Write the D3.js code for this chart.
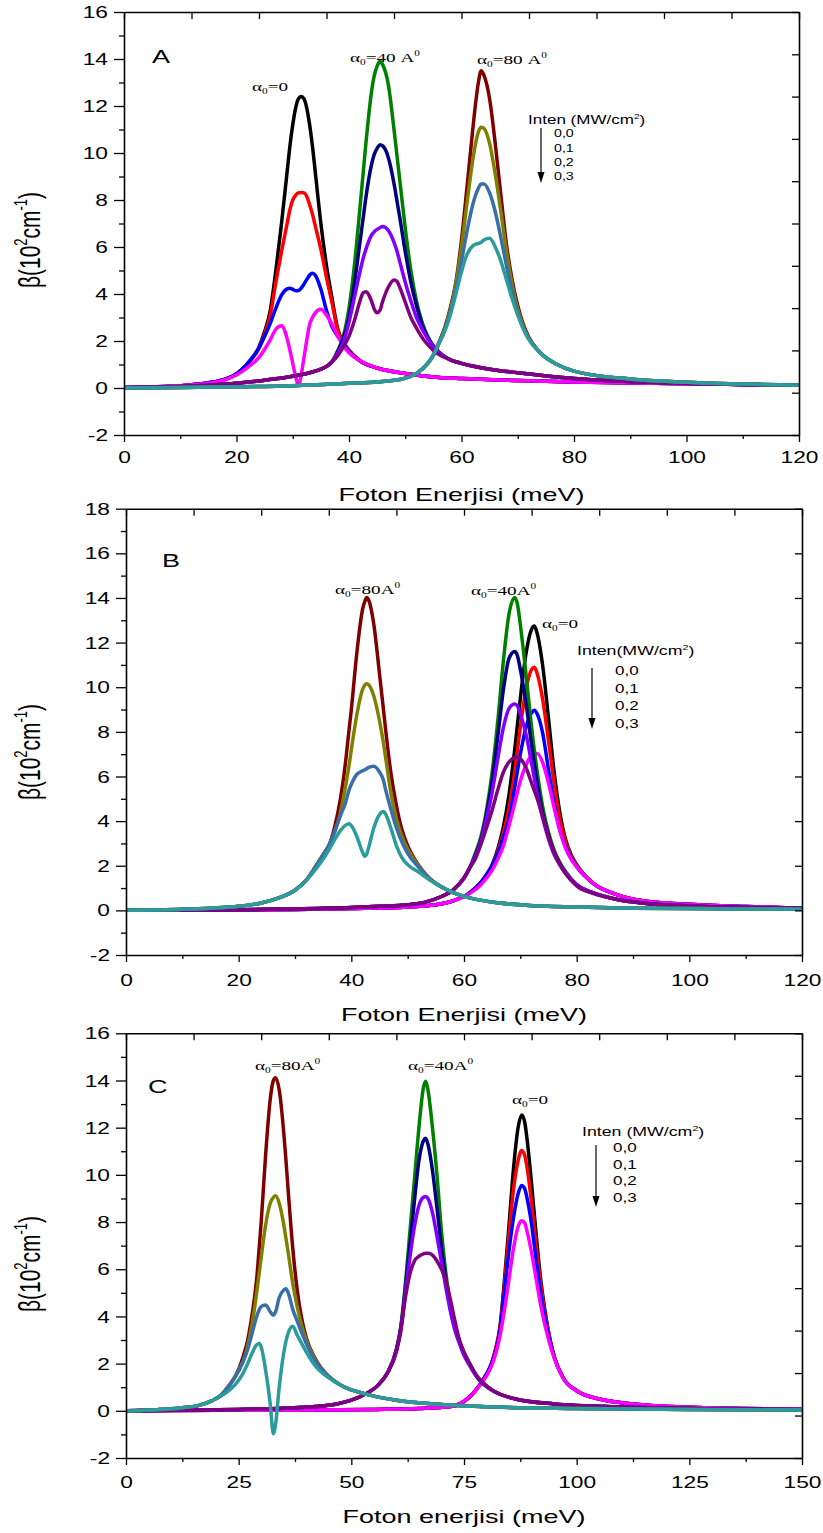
<!DOCTYPE html>
<html>
<head>
<meta charset="utf-8">
<script src="https://cdn.jsdelivr.net/npm/d3@7"></script>
<style>
  body { margin: 0; background: #fff; }
  svg { display: block; }
</style>
</head>
<body>
<div id="chart"></div>
<script>
// intensity legend entries (MW/cm2)
const intensities = ['0,0', '0,1', '0,2', '0,3'];

// ---------- Panel A ----------
// alpha0 = 0
const xA_0 = [0, 5, 10, 15, 18, 20, 22, 24, 25, 26, 27, 28, 29, 29.5, 30, 30.5, 31, 31.5, 32, 32.5, 33, 33.5, 34, 35, 36, 37, 38, 39, 40, 42, 45, 50, 56, 60, 70, 80, 100, 120];
const yA_0_i0 = [0.02, 0.05, 0.1, 0.22, 0.38, 0.6, 1.05, 1.75, 2.4, 3.3, 5.0, 7.0, 9.2, 10.3, 11.2, 11.9, 12.3, 12.4, 12.3, 11.9, 11.2, 10.3, 9.2, 7.0, 5.2, 3.8, 2.5, 1.95, 1.6, 1.15, 0.85, 0.62, 0.45, 0.4, 0.32, 0.26, 0.18, 0.12];
const yA_0_i1 = [0.02, 0.05, 0.1, 0.22, 0.38, 0.6, 1.05, 1.7, 2.3, 3.1, 4.5, 5.8, 7.0, 7.6, 8.0, 8.2, 8.3, 8.32, 8.3, 8.15, 7.8, 7.4, 6.9, 5.9, 4.7, 3.6, 2.45, 1.95, 1.6, 1.15, 0.85, 0.62, 0.45, 0.4, 0.32, 0.26, 0.18, 0.12];
const yA_0_i2 = [0.02, 0.05, 0.1, 0.22, 0.38, 0.6, 1.05, 1.7, 2.2, 2.75, 3.4, 3.95, 4.22, 4.25, 4.2, 4.14, 4.15, 4.25, 4.42, 4.62, 4.8, 4.88, 4.8, 4.2, 3.3, 2.6, 2.2, 1.9, 1.55, 1.15, 0.85, 0.62, 0.45, 0.4, 0.32, 0.26, 0.18, 0.12];
const yA_0_i3 = [0.02, 0.05, 0.1, 0.2, 0.35, 0.55, 0.88, 1.3, 1.65, 2.05, 2.5, 2.65, 2.1, 1.6, 1.05, 0.5, 0.13, 0.55, 1.3, 2.05, 2.7, 3.0, 3.2, 3.35, 3.1, 2.7, 2.2, 1.8, 1.5, 1.15, 0.85, 0.62, 0.45, 0.4, 0.32, 0.26, 0.18, 0.12];
// alpha0 = 40 A
const xA_40 = [0, 10, 20, 25, 30, 33, 35, 36, 37, 38, 39, 40, 41, 42, 42.5, 43, 44, 44.5, 45, 45.5, 46, 47, 48, 48.5, 49, 50, 51, 52, 53, 54, 55, 56, 58, 60, 65, 70, 80, 100, 120];
const yA_40_i0 = [0.01, 0.06, 0.2, 0.33, 0.5, 0.65, 0.8, 0.92, 1.12, 1.6, 2.2, 3.4, 5.3, 7.8, 9.1, 10.4, 12.6, 13.3, 13.7, 13.9, 13.75, 12.9, 11.0, 9.95, 8.9, 6.8, 5.0, 3.7, 2.8, 2.2, 1.8, 1.52, 1.2, 1.05, 0.8, 0.65, 0.4, 0.2, 0.12];
const yA_40_i1 = [0.01, 0.06, 0.2, 0.33, 0.5, 0.65, 0.8, 0.92, 1.12, 1.55, 2.1, 3.0, 4.5, 6.3, 7.2, 8.1, 9.5, 9.95, 10.2, 10.35, 10.3, 9.8, 8.7, 8.0, 7.3, 5.8, 4.5, 3.5, 2.7, 2.15, 1.78, 1.52, 1.2, 1.05, 0.8, 0.65, 0.4, 0.2, 0.12];
const yA_40_i2 = [0.01, 0.06, 0.2, 0.33, 0.5, 0.65, 0.8, 0.92, 1.12, 1.5, 1.95, 2.8, 3.9, 5.0, 5.5, 5.9, 6.5, 6.65, 6.75, 6.82, 6.87, 6.7, 6.2, 5.85, 5.4, 4.5, 3.7, 3.0, 2.5, 2.1, 1.78, 1.5, 1.2, 1.05, 0.8, 0.65, 0.4, 0.2, 0.12];
const yA_40_i3 = [0.01, 0.06, 0.2, 0.33, 0.5, 0.65, 0.8, 0.92, 1.12, 1.38, 1.75, 2.2, 2.9, 3.74, 4.05, 4.1, 3.7, 3.35, 3.2, 3.3, 3.7, 4.3, 4.6, 4.55, 4.3, 3.65, 3.0, 2.55, 2.15, 1.85, 1.6, 1.42, 1.2, 1.05, 0.8, 0.65, 0.4, 0.2, 0.12];
// alpha0 = 80 A
const xA_80 = [0, 10, 20, 30, 40, 45, 49, 52, 54, 55, 56, 57, 58, 59, 60, 61, 62, 62.5, 63, 63.5, 64, 65, 66, 67, 68, 69, 70, 71, 72, 74, 77, 80, 90, 100, 120];
const yA_80_i0 = [0, 0.02, 0.05, 0.1, 0.2, 0.26, 0.36, 0.62, 1.05, 1.4, 1.95, 2.55, 3.4, 4.5, 6.3, 8.6, 11.0, 12.1, 13.0, 13.5, 13.3, 12.3, 10.4, 8.2, 6.1, 4.6, 3.5, 2.7, 2.15, 1.5, 1.0, 0.72, 0.38, 0.24, 0.12];
const yA_80_i1 = [0, 0.02, 0.05, 0.1, 0.2, 0.26, 0.36, 0.62, 1.05, 1.4, 1.9, 2.5, 3.3, 4.4, 6.0, 7.9, 9.7, 10.4, 10.9, 11.1, 11.05, 10.4, 9.1, 7.5, 5.8, 4.4, 3.35, 2.6, 2.1, 1.5, 1.0, 0.72, 0.38, 0.24, 0.12];
const yA_80_i2 = [0, 0.02, 0.05, 0.1, 0.2, 0.26, 0.36, 0.62, 1.05, 1.4, 1.9, 2.45, 3.2, 4.2, 5.4, 6.7, 7.8, 8.2, 8.5, 8.68, 8.68, 8.3, 7.5, 6.4, 5.2, 4.1, 3.2, 2.55, 2.1, 1.5, 1.0, 0.72, 0.38, 0.24, 0.12];
const yA_80_i3 = [0, 0.02, 0.05, 0.1, 0.2, 0.26, 0.36, 0.62, 1.05, 1.4, 1.9, 2.4, 3.1, 4.0, 4.95, 5.7, 6.05, 6.12, 6.15, 6.2, 6.3, 6.37, 6.0, 5.4, 4.6, 3.8, 3.1, 2.5, 2.05, 1.5, 1.0, 0.72, 0.38, 0.24, 0.12];

// ---------- Panel B ----------
// alpha0 = 0
const xB_0 = [0, 20, 30, 40, 50, 55, 58, 61, 63, 64, 65, 66, 67, 68, 69, 70, 71, 72, 72.5, 73, 74, 75, 76, 77, 78, 79, 80, 83, 87, 92, 100, 110, 120];
const yB_0_i0 = [0, 0.02, 0.04, 0.08, 0.15, 0.25, 0.42, 0.78, 1.25, 1.6, 2.05, 2.75, 3.75, 5.2, 7.2, 9.5, 11.5, 12.6, 12.74, 12.4, 10.9, 8.6, 6.2, 4.4, 3.2, 2.5, 2.05, 1.2, 0.72, 0.42, 0.27, 0.17, 0.1];
const yB_0_i1 = [0, 0.02, 0.04, 0.08, 0.15, 0.25, 0.42, 0.78, 1.25, 1.6, 2.0, 2.65, 3.5, 4.6, 6.2, 8.2, 9.9, 10.8, 10.9, 10.6, 9.4, 7.6, 5.7, 4.1, 3.1, 2.45, 2.0, 1.2, 0.72, 0.42, 0.27, 0.17, 0.1];
const yB_0_i2 = [0, 0.02, 0.04, 0.08, 0.15, 0.25, 0.42, 0.78, 1.25, 1.6, 2.0, 2.55, 3.3, 4.1, 5.5, 7.0, 8.2, 8.85, 8.97, 8.8, 7.9, 6.3, 4.8, 3.6, 2.9, 2.35, 1.95, 1.2, 0.72, 0.42, 0.27, 0.17, 0.1];
const yB_0_i3 = [0, 0.02, 0.04, 0.08, 0.15, 0.25, 0.42, 0.75, 1.15, 1.45, 1.8, 2.3, 2.9, 3.8, 4.8, 5.8, 6.5, 6.95, 7.02, 7.03, 6.6, 5.7, 4.6, 3.6, 2.8, 2.3, 1.95, 1.2, 0.72, 0.42, 0.27, 0.17, 0.1];
// alpha0 = 40 A
const xB_40 = [0, 20, 30, 40, 45, 50, 53, 56, 58, 60, 61, 62, 63, 64, 65, 66, 67, 68, 69, 69.5, 70, 71, 72, 73, 74, 75, 76, 77, 78, 80, 83, 87, 92, 100, 110, 120];
const yB_40_i0 = [0, 0.03, 0.07, 0.13, 0.18, 0.25, 0.36, 0.62, 0.9, 1.45, 1.9, 2.55, 3.3, 4.5, 6.2, 8.5, 11.2, 13.3, 14.02, 13.7, 12.8, 10.6, 8.2, 6.2, 4.6, 3.5, 2.7, 2.15, 1.75, 1.15, 0.78, 0.5, 0.32, 0.2, 0.13, 0.09];
const yB_40_i1 = [0, 0.03, 0.07, 0.13, 0.18, 0.25, 0.36, 0.62, 0.9, 1.45, 1.9, 2.45, 3.15, 4.3, 5.8, 7.8, 9.9, 11.3, 11.6, 11.4, 10.8, 9.3, 7.4, 5.7, 4.3, 3.35, 2.6, 2.1, 1.7, 1.15, 0.78, 0.5, 0.32, 0.2, 0.13, 0.09];
const yB_40_i2 = [0, 0.03, 0.07, 0.13, 0.18, 0.25, 0.36, 0.62, 0.9, 1.45, 1.9, 2.4, 3.05, 4.1, 5.3, 6.8, 8.2, 9.05, 9.25, 9.15, 8.8, 7.9, 6.6, 5.2, 4.1, 3.2, 2.5, 2.05, 1.7, 1.15, 0.78, 0.5, 0.32, 0.2, 0.13, 0.09];
const yB_40_i3 = [0, 0.03, 0.07, 0.13, 0.18, 0.25, 0.36, 0.62, 0.9, 1.45, 1.9, 2.3, 2.95, 3.7, 4.5, 5.4, 6.2, 6.65, 6.85, 6.87, 6.8, 6.4, 5.7, 5.0, 4.2, 3.3, 2.6, 2.05, 1.65, 1.1, 0.75, 0.5, 0.32, 0.2, 0.13, 0.09];
// alpha0 = 80 A
const xB_80 = [0, 10, 15, 20, 24, 27, 30, 32, 34, 35, 36, 37, 38, 39, 39.6, 40, 41, 42, 42.4, 42.7, 43, 44, 45, 45.7, 46, 47, 48, 49, 50, 52, 54, 57, 61, 66, 71, 80, 90, 100, 120];
const yB_80_i0 = [0, 0.05, 0.1, 0.18, 0.33, 0.55, 0.9, 1.35, 2.1, 2.5, 2.9, 3.7, 4.9, 6.7, 8.1, 9.0, 11.6, 13.5, 13.85, 14.02, 13.95, 12.8, 10.6, 9.0, 8.3, 6.2, 4.7, 3.6, 2.9, 2.0, 1.4, 0.92, 0.56, 0.34, 0.23, 0.15, 0.1, 0.08, 0.05];
const yB_80_i1 = [0, 0.05, 0.1, 0.18, 0.33, 0.55, 0.9, 1.35, 2.1, 2.5, 2.9, 3.5, 4.3, 5.6, 6.5, 7.2, 8.8, 9.9, 10.1, 10.16, 10.13, 9.6, 8.5, 7.5, 7.0, 5.3, 4.1, 3.3, 2.75, 1.98, 1.4, 0.92, 0.56, 0.34, 0.23, 0.15, 0.1, 0.08, 0.05];
const yB_80_i2 = [0, 0.05, 0.1, 0.18, 0.33, 0.55, 0.9, 1.35, 2.1, 2.5, 2.9, 3.5, 4.2, 4.85, 5.4, 5.65, 6.1, 6.25, 6.3, 6.35, 6.4, 6.46, 6.2, 5.83, 5.5, 4.55, 3.7, 3.05, 2.55, 1.92, 1.4, 0.92, 0.56, 0.34, 0.23, 0.15, 0.1, 0.08, 0.05];
const yB_80_i3 = [0, 0.05, 0.1, 0.18, 0.33, 0.55, 0.9, 1.35, 1.95, 2.3, 2.7, 3.15, 3.55, 3.82, 3.88, 3.8, 3.3, 2.6, 2.42, 2.5, 2.75, 3.7, 4.3, 4.43, 4.35, 3.7, 2.9, 2.35, 2.05, 1.7, 1.35, 0.92, 0.56, 0.34, 0.23, 0.15, 0.1, 0.08, 0.05];

// ---------- Panel C ----------
// alpha0 = 0
const xC_0 = [0, 20, 40, 55, 65, 72, 76, 79, 81, 82, 83, 84, 85, 86, 87, 87.8, 88.5, 89, 90, 91, 92, 93, 94, 95, 97, 100, 105, 112, 125, 150];
const yC_0_i0 = [0, 0.02, 0.03, 0.06, 0.1, 0.18, 0.55, 1.25, 1.95, 2.6, 3.6, 5.6, 7.9, 10.3, 12.0, 12.54, 12.2, 11.5, 9.6, 7.5, 5.6, 4.2, 3.1, 2.3, 1.4, 0.85, 0.5, 0.3, 0.15, 0.07];
const yC_0_i1 = [0, 0.02, 0.03, 0.06, 0.1, 0.18, 0.55, 1.25, 1.95, 2.6, 3.5, 5.4, 7.5, 9.4, 10.6, 11.03, 10.8, 10.3, 8.8, 7.0, 5.4, 4.1, 3.1, 2.3, 1.4, 0.85, 0.5, 0.3, 0.15, 0.07];
const yC_0_i2 = [0, 0.02, 0.03, 0.06, 0.1, 0.18, 0.55, 1.25, 1.95, 2.5, 3.4, 5.1, 6.8, 8.2, 9.2, 9.55, 9.4, 9.0, 7.9, 6.4, 5.0, 3.9, 3.0, 2.3, 1.4, 0.85, 0.5, 0.3, 0.15, 0.07];
const yC_0_i3 = [0, 0.02, 0.03, 0.06, 0.1, 0.18, 0.55, 1.2, 1.85, 2.4, 3.2, 4.3, 5.6, 6.9, 7.8, 8.06, 7.95, 7.6, 6.7, 5.6, 4.5, 3.6, 2.85, 2.25, 1.38, 0.85, 0.5, 0.3, 0.15, 0.07];
// alpha0 = 40 A
const xC_40 = [0, 15, 25, 35, 42, 47, 50, 53, 56, 58, 60, 61, 62, 63, 64, 65, 66, 66.5, 67, 68, 69, 70, 71, 72, 73, 74, 75, 76, 78, 81, 86, 95, 110, 130, 150];
const yC_40_i0 = [0, 0.03, 0.06, 0.11, 0.18, 0.3, 0.45, 0.7, 1.1, 1.6, 2.6, 3.6, 5.4, 7.6, 9.8, 12.0, 13.7, 13.97, 13.6, 12.0, 10.0, 7.6, 5.8, 4.5, 3.6, 2.95, 2.45, 2.1, 1.4, 0.9, 0.52, 0.29, 0.16, 0.09, 0.05];
const yC_40_i1 = [0, 0.03, 0.06, 0.11, 0.18, 0.3, 0.45, 0.7, 1.1, 1.6, 2.6, 3.55, 5.2, 7.0, 8.9, 10.6, 11.45, 11.55, 11.3, 10.2, 8.6, 6.9, 5.5, 4.3, 3.5, 2.9, 2.4, 2.05, 1.4, 0.9, 0.52, 0.29, 0.16, 0.09, 0.05];
const yC_40_i2 = [0, 0.03, 0.06, 0.11, 0.18, 0.3, 0.45, 0.7, 1.1, 1.6, 2.55, 3.5, 5.0, 6.5, 7.8, 8.7, 9.05, 9.08, 9.0, 8.4, 7.4, 6.3, 5.2, 4.2, 3.4, 2.85, 2.35, 2.0, 1.4, 0.9, 0.52, 0.29, 0.16, 0.09, 0.05];
const yC_40_i3 = [0, 0.03, 0.06, 0.11, 0.18, 0.3, 0.45, 0.7, 1.1, 1.6, 2.5, 3.4, 4.8, 5.8, 6.35, 6.55, 6.65, 6.68, 6.68, 6.6, 6.35, 6.0, 5.5, 4.7, 3.8, 3.0, 2.5, 2.1, 1.45, 0.92, 0.52, 0.29, 0.16, 0.09, 0.05];
// alpha0 = 80 A
const xC_80 = [0, 7, 12, 16, 19, 21, 23, 25, 26, 27, 28, 29, 29.6, 30, 31, 32, 32.7, 33.2, 34, 35, 35.5, 36, 37, 38, 39, 40, 42, 45, 48, 53, 60, 70, 80, 100, 125, 150];
const yC_80_i0 = [0, 0.05, 0.12, 0.22, 0.42, 0.65, 1.1, 1.75, 2.3, 3.0, 4.1, 5.6, 7.0, 8.0, 10.9, 13.2, 14.0, 14.12, 13.6, 11.8, 10.6, 9.3, 6.9, 5.1, 3.9, 3.1, 2.2, 1.45, 1.05, 0.72, 0.45, 0.27, 0.17, 0.1, 0.06, 0.03];
const yC_80_i1 = [0, 0.05, 0.12, 0.22, 0.42, 0.65, 1.1, 1.7, 2.1, 2.75, 3.7, 5.0, 5.9, 6.5, 7.9, 8.8, 9.05, 9.11, 8.8, 7.9, 7.3, 6.7, 5.4, 4.4, 3.6, 3.0, 2.15, 1.45, 1.05, 0.72, 0.45, 0.27, 0.17, 0.1, 0.06, 0.03];
const yC_80_i2 = [0, 0.05, 0.12, 0.22, 0.42, 0.65, 1.1, 1.7, 2.1, 2.6, 3.3, 4.0, 4.3, 4.42, 4.48, 4.2, 4.05, 4.2, 4.8, 5.12, 5.17, 5.0, 4.3, 3.8, 3.3, 2.85, 2.1, 1.45, 1.05, 0.72, 0.45, 0.27, 0.17, 0.1, 0.06, 0.03];
const yC_80_i3 = [0, 0.05, 0.12, 0.22, 0.42, 0.62, 0.88, 1.3, 1.6, 2.0, 2.45, 2.8, 2.85, 2.7, 1.7, 0.3, -0.97, -0.55, 1.0, 2.45, 2.95, 3.3, 3.58, 3.2, 2.85, 2.5, 1.9, 1.4, 1.05, 0.72, 0.45, 0.27, 0.17, 0.1, 0.06, 0.03];

// line colours per alpha0 group, one per intensity
const colorsA0 = ['#000000', '#ff0000', '#0000ff', '#ff00ff'];
const colorsA40 = ['#008000', '#000080', '#8000ff', '#800080'];
const colorsA80 = ['#800000', '#808000', '#3a6ea9', '#2b9b9b'];

// the source image is stretched sideways, so all text gets this x-scale
const STRETCH = 1.42;
const SANS = 'Liberation Sans, Arial, sans-serif';
const SERIF = 'Liberation Serif, Times New Roman, serif';

const panels = [
  {
    letter: 'A', left: 124, right: 799, top: 12, bottom: 435,
    xDomain: [0, 120], yDomain: [-2, 16], xMajor: 20, xMinor: 10,
    xTickOff: 28, xTitle: 'Foton Enerjisi (meV)', xTitleY: 501, yTitleY: 240,
    letterPos: [152, 63],
    groups: [
      { x: xA_0, ys: [yA_0_i0, yA_0_i1, yA_0_i2, yA_0_i3], colors: colorsA0 },
      { x: xA_40, ys: [yA_40_i0, yA_40_i1, yA_40_i2, yA_40_i3], colors: colorsA40 },
      { x: xA_80, ys: [yA_80_i0, yA_80_i1, yA_80_i2, yA_80_i3], colors: colorsA80 }
    ],
    notes: [
      { x: 252, y: 91, value: '0', unit: false },
      { x: 350, y: 62, value: '40 A', unit: true },
      { x: 477, y: 64, value: '80 A', unit: true }
    ],
    legend: { title: 'Inten (MW/cm', x: 528, y: 124, size: 12, arrowX: 541, arrowY: [128, 183],
              valX: 554, valY: [137, 151.5, 166, 180], valSize: 10 }
  },
  {
    letter: 'B', left: 126, right: 802, top: 508.7, bottom: 955,
    xDomain: [0, 120], yDomain: [-2, 18], xMajor: 20, xMinor: 10,
    xTickOff: 31, xTitle: 'Foton Enerjisi (meV)', xTitleY: 1021, yTitleY: 752,
    letterPos: [162, 567],
    groups: [
      { x: xB_0, ys: [yB_0_i0, yB_0_i1, yB_0_i2, yB_0_i3], colors: colorsA0 },
      { x: xB_40, ys: [yB_40_i0, yB_40_i1, yB_40_i2, yB_40_i3], colors: colorsA40 },
      { x: xB_80, ys: [yB_80_i0, yB_80_i1, yB_80_i2, yB_80_i3], colors: colorsA80 }
    ],
    notes: [
      { x: 335, y: 594, value: '80A', unit: true },
      { x: 471, y: 595, value: '40A', unit: true },
      { x: 542, y: 628, value: '0', unit: false }
    ],
    legend: { title: 'Inten(MW/cm', x: 577, y: 655, size: 12.5, arrowX: 592, arrowY: [668, 729],
              valX: 615, valY: [675, 692.7, 710, 728], valSize: 12 }
  },
  {
    letter: 'C', left: 126, right: 802, top: 1033.3, bottom: 1458,
    xDomain: [0, 150], yDomain: [-2, 16], xMajor: 25, xMinor: 12.5,
    xTickOff: 30, xTitle: 'Foton enerjisi (meV)', xTitleY: 1523, yTitleY: 1264,
    letterPos: [148, 1093],
    groups: [
      { x: xC_0, ys: [yC_0_i0, yC_0_i1, yC_0_i2, yC_0_i3], colors: colorsA0 },
      { x: xC_40, ys: [yC_40_i0, yC_40_i1, yC_40_i2, yC_40_i3], colors: colorsA40 },
      { x: xC_80, ys: [yC_80_i0, yC_80_i1, yC_80_i2, yC_80_i3], colors: colorsA80 }
    ],
    notes: [
      { x: 255, y: 1070, value: '80A', unit: true },
      { x: 408, y: 1070, value: '40A', unit: true },
      { x: 512, y: 1104, value: '0', unit: false }
    ],
    legend: { title: 'Inten (MW/cm', x: 582, y: 1136, size: 12.5, arrowX: 596, arrowY: [1145, 1207],
              valX: 613, valY: [1152, 1168.5, 1185, 1202], valSize: 12 }
  }
];

const svg = d3.select('#chart').append('svg')
  .attr('width', 823)
  .attr('height', 1533);

svg.append('rect').attr('width', 823).attr('height', 1533).attr('fill', '#fff');

const stretchedText = (g, x, y, size, family, anchor) => g.append('text')
  .attr('transform', `translate(${x},${y}) scale(${STRETCH},1)`)
  .attr('font-size', size)
  .attr('font-family', family)
  .attr('text-anchor', anchor || 'start')
  .attr('fill', '#000');

const styleAxis = (g) => {
  g.select('.domain').attr('stroke', '#000').attr('stroke-width', 1.6);
  g.selectAll('.tick line').attr('stroke', '#000').attr('stroke-width', 1.3);
};

panels.forEach((p, pi) => {
  const x = d3.scaleLinear().domain(p.xDomain).range([p.left, p.right]);
  const y = d3.scaleLinear().domain(p.yDomain).range([p.bottom, p.top]);
  const g = svg.append('g');

  const clipId = `clip${pi}`;
  g.append('clipPath').attr('id', clipId)
    .append('rect')
    .attr('x', p.left).attr('y', p.top)
    .attr('width', p.right - p.left).attr('height', p.bottom - p.top);

  // curves
  const line = d3.line()
    .x(d => x(d[0]))
    .y(d => y(d[1]))
    .curve(d3.curveMonotoneX);

  const curves = g.append('g').attr('clip-path', `url(#${clipId})`);
  p.groups.forEach(grp => {
    grp.ys.forEach((ys, i) => {
      curves.append('path')
        .datum(grp.x.map((xv, k) => [xv, ys[k]]))
        .attr('fill', 'none')
        .attr('stroke', grp.colors[i])
        .attr('stroke-width', 3.5)
        .attr('stroke-linejoin', 'round')
        .attr('d', line);
    });
  });

  // axes
  const [x0, x1] = p.xDomain;
  const [y0, y1] = p.yDomain;
  const xMajors = d3.range(x0, x1 + 0.001, p.xMajor);
  const xMinors = d3.range(x0, x1 + 0.001, p.xMinor).filter(v => !xMajors.includes(v));
  const yMajors = d3.range(y0, y1 + 0.001, 2);
  const yMinors = d3.range(y0, y1 + 0.001, 1).filter(v => !yMajors.includes(v));

  const bottom = g.append('g').attr('transform', `translate(0,${p.bottom})`)
    .call(d3.axisBottom(x).tickValues(xMajors).tickSize(7).tickSizeOuter(0).tickFormat(d => String(d)));
  bottom.selectAll('text')
    .attr('y', null).attr('dy', null)
    .attr('transform', `translate(0,${p.xTickOff}) scale(${STRETCH},1)`)
    .attr('font-size', 16).attr('font-family', SANS).attr('fill', '#000');
  styleAxis(bottom);

  const bottomMinor = g.append('g').attr('transform', `translate(0,${p.bottom})`)
    .call(d3.axisBottom(x).tickValues(xMinors).tickSize(4).tickFormat(''));
  bottomMinor.select('.domain').remove();
  styleAxis(bottomMinor);

  const leftAx = g.append('g').attr('transform', `translate(${p.left},0)`)
    .call(d3.axisLeft(y).tickValues(yMajors).tickSize(10).tickSizeOuter(0).tickFormat(d => String(d)));
  leftAx.selectAll('text')
    .attr('x', null).attr('dy', '0.35em')
    .attr('transform', `translate(-16,0) scale(${STRETCH},1)`)
    .attr('font-size', 16).attr('font-family', SANS).attr('fill', '#000');
  styleAxis(leftAx);

  const leftMinor = g.append('g').attr('transform', `translate(${p.left},0)`)
    .call(d3.axisLeft(y).tickValues(yMinors).tickSize(5).tickFormat(''));
  leftMinor.select('.domain').remove();
  styleAxis(leftMinor);

  // top and right: ten equal intervals, inward ticks, no labels
  const topAx = g.append('g').attr('transform', `translate(0,${p.top})`)
    .call(d3.axisTop(x).tickValues(d3.range(11).map(i => x0 + i * (x1 - x0) / 10))
      .tickSize(-7).tickSizeOuter(0).tickFormat(''));
  styleAxis(topAx);

  const rightAx = g.append('g').attr('transform', `translate(${p.right},0)`)
    .call(d3.axisRight(y).tickValues(d3.range(11).map(i => y0 + i * (y1 - y0) / 10))
      .tickSize(-7).tickSizeOuter(0).tickFormat(''));
  styleAxis(rightAx);

  // axis titles
  stretchedText(g, (p.left + p.right) / 2, p.xTitleY, 19, SANS, 'middle').text(p.xTitle);

  const yt = g.append('text')
    .attr('transform', `translate(40,${p.yTitleY}) scale(${STRETCH},1) rotate(-90)`)
    .attr('font-size', 21).attr('font-family', SANS).attr('text-anchor', 'middle').attr('fill', '#000');
  yt.append('tspan').text('β(10');
  yt.append('tspan').attr('font-size', 13).attr('dy', -9).text('2');
  yt.append('tspan').attr('dy', 9).text('cm');
  yt.append('tspan').attr('font-size', 13).attr('dy', -9).text('-1');
  yt.append('tspan').attr('dy', 9).text(')');

  // panel letter
  stretchedText(g, p.letterPos[0], p.letterPos[1], 19, SANS).text(p.letter);

  // alpha0 annotations
  p.notes.forEach(n => {
    const t = stretchedText(g, n.x, n.y, 13.5, SERIF);
    t.append('tspan').text('α');
    t.append('tspan').attr('font-size', 8).attr('dy', 3).text('0');
    t.append('tspan').attr('dy', -3).text('=' + n.value);
    if (n.unit) t.append('tspan').attr('font-size', 8).attr('dy', -6).text('0');
  });

  // intensity legend with arrow
  const lg = p.legend;
  const lt = stretchedText(g, lg.x, lg.y, lg.size, SANS);
  lt.append('tspan').text(lg.title);
  lt.append('tspan').attr('font-size', lg.size * 0.6).attr('dy', -5).text('2');
  lt.append('tspan').attr('dy', 5).text(')');

  g.append('line')
    .attr('x1', lg.arrowX).attr('x2', lg.arrowX)
    .attr('y1', lg.arrowY[0]).attr('y2', lg.arrowY[1] - 8)
    .attr('stroke', '#000').attr('stroke-width', 1.2);
  g.append('path')
    .attr('d', `M${lg.arrowX - 3.5},${lg.arrowY[1] - 11} L${lg.arrowX + 3.5},${lg.arrowY[1] - 11} L${lg.arrowX},${lg.arrowY[1]} Z`)
    .attr('fill', '#000');

  intensities.forEach((v, i) => {
    stretchedText(g, lg.valX, lg.valY[i], lg.valSize, SANS).text(v);
  });
});
</script>
</body>
</html>
